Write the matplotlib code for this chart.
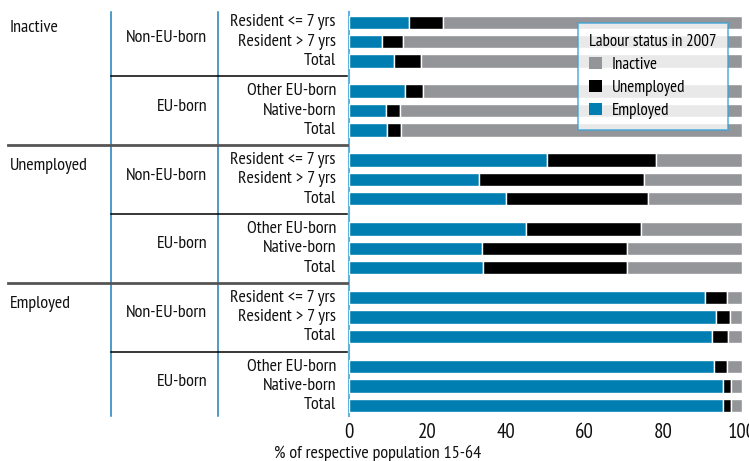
import matplotlib
matplotlib.use("Agg")
import matplotlib.pyplot as plt
from matplotlib import font_manager as fm
from matplotlib.patches import Patch
from matplotlib.lines import Line2D
import matplotlib.transforms as mtransforms
import numpy as np

_avail = {f.name for f in fm.fontManager.ttflist}
_cands = ["Myriad Pro Condensed", "PT Sans Narrow", "Roboto Condensed", "Fira Sans Condensed",
          "Asap Condensed", "Barlow Semi Condensed", "Liberation Sans Narrow", "DejaVu Sans"]
FONT = next((c for c in _cands if c in _avail), "DejaVu Sans")
plt.rcParams['font.family'] = [FONT, 'DejaVu Sans']

groups = ["Inactive", "Unemployed", "Employed"]
subgroups = ["Non-EU-born", "EU-born"]
rows = [["Resident <= 7 yrs", "Resident > 7 yrs", "Total"],
        ["Other EU-born", "Native-born", "Total"]]

# values per group: 6 rows (Non-EU: <=7, >7, Total ; EU: Other EU, Native, Total)
employed = {
    "Inactive":   [15.3, 8.3, 11.5, 14.3, 9.3, 9.6],
    "Unemployed": [50.4, 33.2, 39.9, 45.0, 33.8, 34.1],
    "Employed":   [90.5, 93.3, 92.3, 92.8, 95.1, 95.1],
}
unemployed = {
    "Inactive":   [8.7, 5.5, 6.8, 4.6, 3.8, 3.7],
    "Unemployed": [27.7, 41.9, 36.1, 29.2, 36.9, 36.6],
    "Employed":   [5.6, 3.6, 4.2, 3.3, 2.0, 2.0],
}
inactive = {g: [100 - e - u for e, u in zip(employed[g], unemployed[g])] for g in groups}

xticks = [0, 20, 40, 60, 80, 100]
legend_title = "Labour status in 2007"
xlabel = "% of respective population 15-64"

C_EMP = "#007db1"
C_UNE = "#000000"
C_INA = "#939598"
C_LINE = "#1f7fb6"
TXT = "#111111"
FS = 13

W, H = 749, 461
fig = plt.figure(figsize=(W / 100, H / 100), dpi=100)
ax = fig.add_axes([349 / W, 1 - 416 / H, (742 - 349) / W, (416 - 12) / H])

GAP = 3.55
ys, labels = [], []
for g_i, g in enumerate(groups):
    for s_i in range(2):
        k = g_i * 2 + s_i
        for r in range(3):
            ys.append(k * GAP + r)
            labels.append(rows[s_i][r])
ys = np.array(ys)

emp = np.concatenate([employed[g] for g in groups])
une = np.concatenate([unemployed[g] for g in groups])
ina = np.concatenate([inactive[g] for g in groups])

bh = 0.69
ax.barh(ys, emp, height=bh, color=C_EMP, edgecolor="white", linewidth=1, zorder=3)
ax.barh(ys, une, left=emp, height=bh, color=C_UNE, edgecolor="white", linewidth=1, zorder=3)
ax.barh(ys, ina, left=emp + une, height=bh, color=C_INA, edgecolor="white", linewidth=1, zorder=3)

ymax = 5 * GAP + 2
ax.set_ylim(ymax + 0.55, -0.53)
ax.set_xlim(0, 100)
ax.set_xticks(xticks)
ax.set_xticklabels([str(t) for t in xticks], fontsize=15, color=TXT)
ax.tick_params(axis="x", length=0, pad=5)
ax.set_yticks([])
for sp in ["top", "right", "bottom"]:
    ax.spines[sp].set_visible(False)
ax.spines["left"].set_color("#5fb4dd")
ax.spines["left"].set_linewidth(1.5)
ax.spines["left"].set_zorder(1)

trans = mtransforms.blended_transform_factory(fig.transFigure, ax.transData)

def fx(px):
    return px / W

# row labels
for y, lab in zip(ys, labels):
    ax.text(fx(336), y, lab, transform=trans, ha="right", va="center", fontsize=FS, color=TXT)

# subgroup & group labels
for g_i, g in enumerate(groups):
    y0 = (g_i * 2) * GAP
    ax.text(fx(10), y0 + 0.3, g, transform=trans, ha="left", va="center", fontsize=FS, color=TXT)
    for s_i, s in enumerate(subgroups):
        k = g_i * 2 + s_i
        ax.text(fx(207), k * GAP + 0.8, s, transform=trans, ha="right", va="center", fontsize=FS, color=TXT)

# vertical lines
for px in [111, 218]:
    ax.add_line(Line2D([fx(px), fx(px)], [ymax + 0.55, -0.53], transform=trans,
                       color=C_LINE, linewidth=1.1, clip_on=False))

# separators
for g_i in range(3):
    ysub = (2 * g_i) * GAP + 2 + (GAP - 2) / 2
    ax.add_line(Line2D([fx(111), fx(347)], [ysub, ysub], transform=trans,
                       color="#000000", linewidth=1.1, clip_on=False))
    if g_i < 2:
        ygrp = (2 * g_i + 1) * GAP + 2 + (GAP - 2) / 2
        ax.add_line(Line2D([fx(8), fx(347)], [ygrp, ygrp], transform=trans,
                           color="#555555", linewidth=2, clip_on=False))

fig.text(378 / W, 1 - 453 / H, xlabel, ha="center", va="center", fontsize=FS, color=TXT)

handles = [Patch(facecolor=C_INA, edgecolor="none", label="Inactive"),
           Patch(facecolor=C_UNE, edgecolor="none", label="Unemployed"),
           Patch(facecolor=C_EMP, edgecolor="none", label="Employed")]
leg = fig.legend(handles=handles, title=legend_title, loc="upper left",
                 bbox_to_anchor=(578 / W, 1 - 23 / H), borderaxespad=0, frameon=True, fancybox=False,
                 fontsize=12.2, title_fontsize=12.2, handlelength=0.75, handleheight=0.75,
                 handletextpad=0.6, labelspacing=0.4, borderpad=0.65, alignment="left")
leg.get_frame().set_edgecolor("#3aa3d9")
leg.get_frame().set_linewidth(1.2)
leg.set_zorder(10)

fig.savefig("out.png", dpi=100)
